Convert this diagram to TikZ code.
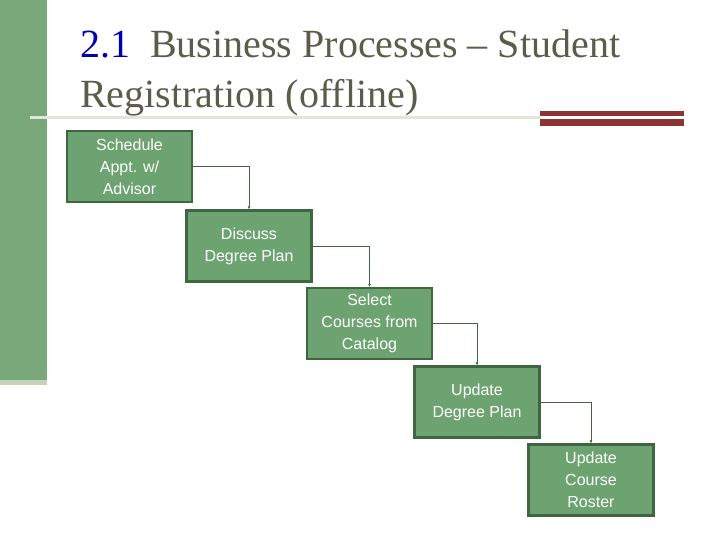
\documentclass[tikz,border=0pt]{standalone}
\usepackage{fontspec}
\setmainfont{Liberation Serif}
\newfontfamily\boxfont{Liberation Sans}
\definecolor{boxfill}{RGB}{109,163,112}
\definecolor{boxdraw}{RGB}{62,102,64}
\definecolor{barg}{RGB}{120,168,122}
\definecolor{titleg}{RGB}{92,92,74}
\definecolor{redbar}{RGB}{140,52,52}
\definecolor{rule}{RGB}{228,228,216}
\tikzset{stepbox/.style={draw=boxdraw,line width=2.2pt,fill=boxfill,text=white,font=\boxfont\fontsize{16}{22}\selectfont,align=center,minimum width=125pt,minimum height=71pt,inner sep=0pt},
conn/.style={draw=boxdraw,line width=1pt,-{Latex[length=3pt,width=3pt]}}}
\usetikzlibrary{arrows.meta}
\begin{document}
\begin{tikzpicture}[x=1pt,y=-1pt]
\useasboundingbox (0,0) rectangle (720,540);
\fill[barg] (0,0) rectangle (47,380);
\fill[rule!70!barg] (0,380) rectangle (47,385);
\fill[rule] (30,116) rectangle (540,119);
\fill[redbar] (540,111) rectangle (684,116);
\fill[redbar] (540,119) rectangle (684,126);
\node[anchor=base west,inner sep=0pt,font=\fontsize{40}{50}\selectfont,text=titleg] (t1) at (80,58) {\textcolor{blue!70!black}{2.1}\enspace Business Processes -- Student};
\node[anchor=base west,inner sep=0pt,font=\fontsize{40}{50}\selectfont,text=titleg] (t2) at (80,108) {Registration (offline)};
\node[stepbox] (b1) at (129.5,166.5) {Schedule\\Appt. w/\\Advisor};
\node[stepbox] (b2) at (249,246) {Discuss\\Degree Plan};
\node[stepbox] (b3) at (369.5,323.5) {Select\\Courses from\\Catalog};
\node[stepbox] (b4) at (477,402) {Update\\Degree Plan};
\node[stepbox] (b5) at (591,480) {Update\\Course\\Roster};
\draw[conn] (b1.east) -| (b2.north);
\draw[conn] (b2.east) -| (b3.north);
\draw[conn] (b3.east) -| (b4.north);
\draw[conn] (b4.east) -| (b5.north);
\end{tikzpicture}
\end{document}
